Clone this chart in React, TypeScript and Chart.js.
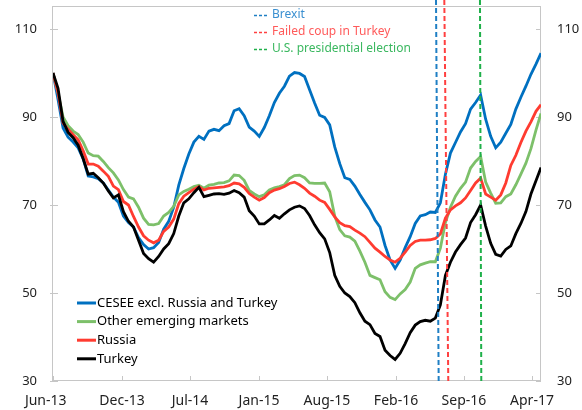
import React, { useEffect, useRef } from "react";
import { Chart, registerables } from "chart.js";

Chart.register(...registerables);

// ---- Data (index = sample, roughly bi-weekly from Jun-2013 to Apr-2017) ----
const seriesNames = [
  "CESEE excl. Russia and Turkey",
  "Other emerging markets",
  "Russia",
  "Turkey",
];
const seriesColors = ["#0070C0", "#7DC06A", "#FF3B30", "#000000"];

const cesee = [
  100, 94, 87.5, 85.4, 84.3, 83.0, 80.5, 76.6, 76.4, 76.0,
  75.0, 73.4, 71.8, 70.6, 67.5, 66.0, 65.0, 62.6, 61.0, 60.0,
  60.3, 61.5, 64.5, 66.3, 69.5, 74.5, 78.3, 81.6, 84.3, 85.6,
  84.9, 86.8, 87.2, 86.9, 88.0, 88.5, 91.4, 91.9, 90.3, 87.7,
  86.8, 85.6, 87.6, 90.3, 93.3, 95.4, 97.0, 99.3, 100.1, 99.9,
  99.2, 96.2, 93.2, 90.4, 89.9, 88.2, 83.2, 79.4, 76.2, 75.8,
  74.3, 72.4, 70.6, 68.9, 66.6, 65.0, 60.8, 57.5, 55.6, 57.5,
  60.3, 62.8, 65.8, 67.5, 67.8, 68.4, 68.3, 70.5, 77.0, 81.8,
  84.2, 86.6, 88.5, 91.8, 93.3, 95.0, 89.5, 85.6, 83.0, 84.3,
  86.3, 88.3, 91.8, 94.5, 97.0, 99.7, 102.0, 104.5,
];

const otherEM = [
  100, 95.5, 90.0, 88.0, 86.8, 86.0, 84.3, 81.8, 81.2, 81.1,
  79.9, 78.5, 77.3, 75.7, 73.5, 71.8, 71.4, 69.5, 67.0, 65.6,
  65.5, 65.8, 67.5, 68.3, 69.7, 72.3, 73.1, 73.6, 74.2, 74.5,
  73.8, 74.5, 74.7, 75.0, 75.1, 75.5, 76.8, 76.7, 75.6, 73.3,
  72.5, 71.9, 72.3, 73.4, 73.9, 74.2, 74.6, 76.0, 76.7, 76.8,
  76.2, 75.0, 74.9, 74.9, 75.0, 73.0, 67.5, 64.4, 63.0, 62.7,
  61.8, 59.5, 57.0, 54.0, 53.5, 53.0, 50.3, 49.0, 48.5, 49.8,
  50.8, 52.5, 55.6, 56.4, 56.8, 57.1, 57.1, 60.2, 66.0, 69.5,
  72.0, 73.8, 75.2, 78.4, 79.9, 81.0, 75.2, 72.7, 70.4, 70.5,
  71.9, 72.5, 74.6, 77.0, 79.5, 82.8, 87.0, 90.8,
];

const russia = [
  100, 95.5, 88.6, 87.2, 86.0, 84.8, 82.3, 79.3, 79.3, 78.8,
  77.7, 76.5, 74.3, 73.5, 70.8, 70.0, 67.4, 65.0, 63.0, 62.0,
  61.4, 62.0, 64.0, 65.0, 66.8, 70.3, 72.0, 72.8, 73.6, 74.2,
  73.4, 73.8, 73.9, 74.0, 74.1, 74.4, 75.0, 74.8, 74.0, 72.6,
  71.8, 71.1, 71.7, 72.8, 73.4, 73.7, 74.2, 74.9, 75.2, 74.6,
  73.8, 72.7, 72.0, 71.1, 70.6, 69.0, 67.3, 66.0, 65.3, 65.1,
  64.3, 63.6, 62.8, 61.5, 60.2, 59.3, 58.3, 57.5, 57.0, 57.9,
  59.3, 60.8, 61.7, 62.0, 62.0, 62.1, 62.4, 63.4, 67.0, 68.9,
  69.8, 70.5, 71.6, 73.3, 75.0, 76.1, 72.5, 71.8, 71.1, 72.3,
  75.0, 79.0, 81.3, 84.2, 86.8, 88.9, 91.3, 92.8,
];

const turkey = [
  100, 96.5, 89.0, 86.5, 85.3, 83.6, 80.5, 77.0, 77.2, 76.2,
  75.0, 73.2, 71.6, 72.3, 68.5, 66.3, 65.0, 62.0, 59.0, 57.8,
  57.0, 58.3, 60.0, 61.2, 63.5, 67.5, 70.5, 71.4, 72.8, 74.0,
  71.9, 72.2, 72.5, 72.6, 72.4, 72.7, 73.3, 72.8, 71.8, 68.7,
  67.5, 65.7, 65.7, 66.6, 67.6, 67.0, 68.0, 68.9, 69.5, 69.8,
  69.2, 67.6, 65.5, 63.7, 62.3, 59.2, 54.0, 51.5, 50.0, 49.2,
  47.8, 45.5, 43.6, 42.8, 40.8, 40.1, 37.0, 35.8, 34.9, 36.3,
  38.5, 41.0, 42.7, 43.5, 43.8, 43.6, 44.3, 47.3, 54.0, 57.0,
  59.3, 61.0, 62.5, 66.0, 67.8, 70.0, 65.2, 61.3, 58.8, 58.4,
  59.9, 60.7, 63.5, 65.8, 68.5, 72.5, 75.5, 78.5,
];

const seriesValues = [cesee, otherEM, russia, turkey];

// x-axis ticks (in sample-index units) and their labels
const xTickPos = [0, 13.71, 27.23, 40.95, 54.46, 68.18, 81.69, 95.21];
const xTickLabels = ["Jun-13    ", "Dec-13", "Jul-14", "Jan-15", "Aug-15", "Feb-16", "Sep-16", "Apr-17"];
const yTicks = [30, 50, 70, 90, 110];
const yMin = 30;
const yMax = 115;

// events (vertical dashed markers), x in sample-index units
const eventNames = ["Brexit", "Failed coup in Turkey", "U.S. presidential election"];
const eventColors = ["#1f7fc4", "#ff4040", "#1fb04a"];
const eventTextColors = ["#3a8fd0", "#ff5a5a", "#3bb860"];
const eventXTop = [76.13, 77.78, 84.87];
const eventXBottom = [76.66, 78.57, 85.13];

const FONT = "'Noto Sans', 'DejaVu Sans', sans-serif";

const decorPlugin = {
  id: "decor",
  beforeDatasetsDraw(chart: any) {
    const { ctx, chartArea } = chart;
    const { left, right, top, bottom } = chartArea;
    ctx.save();
    ctx.strokeStyle = "#c6c6c6";
    ctx.lineWidth = 1;
    ctx.strokeRect(Math.round(left) - 0.5, Math.round(top) - 0.5, Math.round(right - left), Math.round(bottom - top));
    const xs = chart.scales.x;
    const yl = chart.scales.y;
    ctx.beginPath();
    xs.ticks.forEach((t: any) => {
      const px = Math.round(xs.getPixelForValue(t.value)) + 0.5;
      ctx.moveTo(px, bottom);
      ctx.lineTo(px, bottom - 5);
    });
    yl.ticks.forEach((t: any) => {
      const py = Math.round(yl.getPixelForValue(t.value)) + 0.5;
      ctx.moveTo(left - 3, py);
      ctx.lineTo(left + 5, py);
      ctx.moveTo(right, py);
      ctx.lineTo(right - 5, py);
    });
    ctx.stroke();
    ctx.restore();
  },
  afterDraw(chart: any) {
    const { ctx } = chart;
    ctx.save();
    ctx.font = `12px ${FONT}`;
    ctx.textBaseline = "middle";
    ctx.textAlign = "left";
    eventNames.forEach((name, i) => {
      const y = 15 + i * 17;
      ctx.strokeStyle = eventColors[i];
      ctx.lineWidth = 1.3;
      ctx.setLineDash([3, 2]);
      ctx.beginPath();
      ctx.moveTo(254, y + 0.5);
      ctx.lineTo(269, y + 0.5);
      ctx.stroke();
      ctx.setLineDash([]);
      ctx.fillStyle = eventTextColors[i];
      ctx.fillText(name, 272, y);
    });
    ctx.font = `13px ${FONT}`;
    seriesNames.forEach((name, i) => {
      const y = 303 + i * 18.6;
      ctx.strokeStyle = seriesColors[i];
      ctx.lineWidth = 3;
      ctx.beginPath();
      ctx.moveTo(77, y);
      ctx.lineTo(96, y);
      ctx.stroke();
      ctx.fillStyle = "#000";
      ctx.fillText(name, 97, y);
    });
    ctx.restore();
  },
};

const noPad = (s: any) => {
  s.paddingTop = 0;
  s.paddingBottom = 0;
  s.paddingLeft = 0;
  s.paddingRight = 0;
};

export default function App() {
  const ref = useRef<HTMLCanvasElement | null>(null);

  useEffect(() => {
    if (!ref.current) return;
    const yTop = yMax + 7 / 4.4;
    const datasets: any[] = [];
    eventNames.forEach((name, i) => {
      datasets.push({
        label: name,
        data: [
          { x: eventXTop[i], y: yTop },
          { x: eventXBottom[i], y: yMin },
        ],
        borderColor: eventColors[i],
        borderWidth: 2,
        borderDash: [5, 3],
        pointRadius: 0,
        clip: false,
        order: 0,
        yAxisID: "y",
      });
    });
    seriesNames.forEach((name, i) => {
      datasets.push({
        label: name,
        data: seriesValues[i].map((v, k) => ({ x: k, y: v })),
        borderColor: seriesColors[i],
        borderWidth: 2.8,
        pointRadius: 0,
        tension: 0,
        order: 4 - i,
        yAxisID: "y",
      });
    });

    const tickFont = { family: FONT, size: 13 };
    const chart = new Chart(ref.current, {
      type: "line",
      data: { datasets },
      options: {
        responsive: false,
        animation: false,
        devicePixelRatio: 1,
        layout: { padding: { top: 7, left: 0, right: 0, bottom: 0 } },
        plugins: { legend: { display: false }, tooltip: { enabled: false } },
        scales: {
          x: {
            type: "linear",
            min: 0,
            max: seriesValues[0].length - 1,
            grid: { display: false },
            border: { display: false },
            afterBuildTicks: (s: any) => {
              s.ticks = xTickPos.map((v) => ({ value: v }));
            },
            afterFit: (s: any) => {
              s.height = 29;
              noPad(s);
            },
            ticks: {
              autoSkip: false,
              maxRotation: 0,
              padding: 4,
              color: "#222",
              font: { family: FONT, size: 14 },
              callback: (_v: any, idx: number) => xTickLabels[idx],
            },
          },
          y: {
            type: "linear",
            position: "left",
            min: yMin,
            max: yMax,
            grid: { display: false, drawTicks: false },
            border: { display: false },
            afterBuildTicks: (s: any) => {
              s.ticks = yTicks.map((v) => ({ value: v }));
            },
            afterFit: (s: any) => {
              s.width = 53;
              noPad(s);
            },
            ticks: { padding: 16, color: "#222", font: tickFont },
          },
          y2: {
            type: "linear",
            position: "right",
            min: yMin,
            max: yMax,
            grid: { display: false, drawTicks: false },
            border: { display: false },
            afterBuildTicks: (s: any) => {
              s.ticks = yTicks.map((v) => ({ value: v }));
            },
            afterFit: (s: any) => {
              s.width = 41;
              noPad(s);
            },
            ticks: { padding: 16, color: "#222", font: tickFont },
          },
        },
      } as any,
      plugins: [decorPlugin],
    });
    return () => chart.destroy();
  }, []);

  return (
    <div style={{ position: "fixed", left: 0, top: 0, width: 582, height: 410, background: "#fff" }}>
      <canvas ref={ref} width={582} height={410} />
    </div>
  );
}
